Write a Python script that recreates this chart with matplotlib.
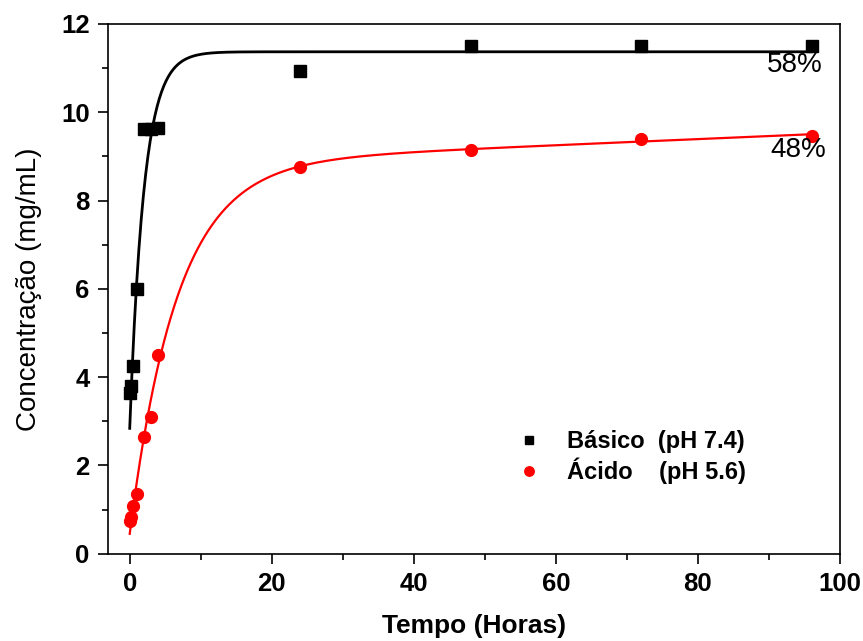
import numpy as np
import matplotlib
matplotlib.use("Agg")
import matplotlib.pyplot as plt
from matplotlib.ticker import MultipleLocator

plt.rcParams['font.family'] = ['Liberation Sans', 'DejaVu Sans']

# release data (hours, mg/mL)
tempo = [0, 0.25, 0.5, 1, 2, 3, 4, 24, 48, 72, 96]
basico = [3.64, 3.79, 4.26, 6.0, 9.62, 9.62, 9.65, 10.93, 11.51, 11.51, 11.51]
acido = [0.75, 0.84, 1.08, 1.35, 2.64, 3.09, 4.49, 8.77, 9.15, 9.40, 9.47]

# fitted curve parameters
fit_basico = dict(plateau=11.37, y0=2.84, k=0.50)
fit_acido = dict(y0=0.45, amp=8.39, k=0.15, slope=0.0069)

labels = ['Básico  (pH 7.4)', 'Ácido    (pH 5.6)']
pct_labels = ['58%', '48%']

t = np.linspace(0, 96, 600)
yb = fit_basico['plateau'] - (fit_basico['plateau'] - fit_basico['y0']) * np.exp(-fit_basico['k'] * t)
ya = fit_acido['y0'] + fit_acido['amp'] * (1 - np.exp(-fit_acido['k'] * t)) + fit_acido['slope'] * t

fig = plt.figure(figsize=(8.63, 6.41), dpi=100)
ax = fig.add_axes([0.1248, 0.1362, 0.8485, 0.8264])

ax.plot(t, yb, color='black', lw=2.0)
ax.plot(t, ya, color='red', lw=1.6)
ax.plot(tempo, basico, 's', color='black', ms=8, ls='none', label=labels[0])
ax.plot(tempo, acido, 'o', color='red', ms=8.5, ls='none', label=labels[1])

ax.text(93.7, 11.07, pct_labels[0], fontsize=20, ha='center', va='center')
ax.text(94.1, 9.15, pct_labels[1], fontsize=20, ha='center', va='center')

ax.set_xlim(-3.1, 100)
ax.set_ylim(0, 12)
ax.xaxis.set_major_locator(MultipleLocator(20))
ax.xaxis.set_minor_locator(MultipleLocator(10))
ax.yaxis.set_major_locator(MultipleLocator(2))
ax.yaxis.set_minor_locator(MultipleLocator(1))
ax.tick_params(which='major', direction='out', length=7, width=1.2, labelsize=18.5, pad=6)
ax.tick_params(which='minor', direction='out', length=4, width=1.2)
for lbl in ax.get_xticklabels() + ax.get_yticklabels():
    lbl.set_fontweight('bold')
for s in ax.spines.values():
    s.set_linewidth(1.2)

ax.set_xlabel('Tempo (Horas)', fontsize=19, fontweight='bold', labelpad=13)
ax.set_ylabel('Concentração (mg/mL)', fontsize=20, labelpad=14)

leg = ax.legend(loc='upper left', bbox_to_anchor=(0.559, 0.2335), frameon=False,
                handlelength=1, handletextpad=1.12, labelspacing=0.2,
                borderpad=0, borderaxespad=0, markerscale=0.8,
                prop={'size': 17, 'weight': 'bold'})

fig.savefig('out.png', dpi=100)
